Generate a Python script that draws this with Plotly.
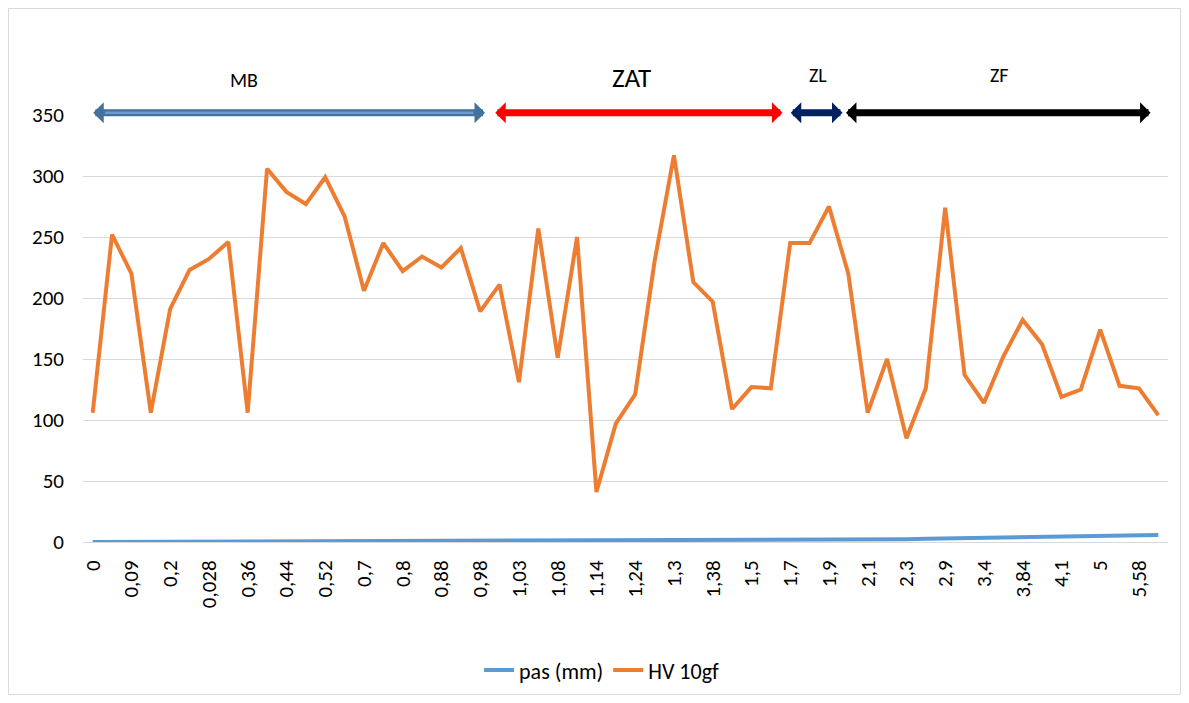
"""Microhardness profile across the weld zones (HV 10gf vs pas)."""

import plotly.graph_objects as go

# pas (mm) for each measurement point (odd points are not labelled in the source)
pas_mm = [0, 0.04, 0.09, 0.14, 0.2, 0.24, 0.028, 0.32, 0.36, 0.4,
          0.44, 0.48, 0.52, 0.6, 0.7, 0.76, 0.8, 0.84, 0.88, 0.92,
          0.98, 1.0, 1.03, 1.05, 1.08, 1.1, 1.14, 1.2, 1.24, 1.28,
          1.3, 1.34, 1.38, 1.44, 1.5, 1.6, 1.7, 1.8, 1.9, 2.0,
          2.1, 2.2, 2.3, 2.6, 2.9, 3.1, 3.4, 3.6, 3.84, 4.0,
          4.1, 4.5, 5.0, 5.3, 5.58, 5.8]

hv_10gf = [106, 252, 220, 106, 191, 223, 232, 246, 106, 306,
           287, 277, 299, 267, 206, 245, 222, 234, 225, 241,
           189, 211, 131, 257, 151, 250, 41, 97, 121, 230,
           317, 213, 197, 109, 127, 126, 245, 245, 275, 220,
           106, 150, 85, 126, 274, 137, 114, 152, 182, 162,
           119, 125, 174, 128, 126, 104]

categories = [f"{v:g}".replace(".", ",") for v in pas_mm]

# weld zones: name, start index, end index, arrow colour
zone_names = ["MB", "ZAT", "ZL", "ZF"]
zone_start = [-0.05, 20.7, 35.95, 38.8]
zone_end = [20.25, 35.6, 38.7, 54.6]
zone_colors = ["#41719c", "#ff0000", "#002060", "#000000"]
zone_label_x = [7.8, 27.8, 37.45, 46.8]
zone_label_y = [1.082, 1.087, 1.094, 1.094]
zone_label_size = [20, 27, 20, 20]

FONT = "Carlito, Lato, sans-serif"

fig = go.Figure()
fig.add_trace(go.Scatter(x=categories, y=pas_mm, name="pas (mm)", mode="lines",
                         line=dict(color="#5b9bd5", width=4)))
fig.add_trace(go.Scatter(x=categories, y=hv_10gf, name="HV 10gf", mode="lines",
                         line=dict(color="#ed7d31", width=4)))

arrow_y = 1.005  # just above the 350 gridline (paper units)
for name, x0, x1, color, lx, ly, fs in zip(zone_names, zone_start, zone_end,
                                           zone_colors, zone_label_x,
                                           zone_label_y, zone_label_size):
    fig.add_annotation(x=x1, y=arrow_y, ax=x0, ay=0, xref="x", yref="paper",
                       axref="x", ayref="pixel", text="", showarrow=True,
                       arrowhead=1, arrowside="end+start", arrowsize=0.5,
                       arrowwidth=7, arrowcolor=color)
    fig.add_annotation(x=lx, y=ly, xref="x", yref="paper", text=name,
                       showarrow=False, yanchor="middle",
                       font=dict(size=fs, color="#000000", family=FONT))

# lighter centre line of the MB arrow
fig.add_annotation(x=zone_end[0] - 0.6, y=arrow_y, ax=zone_start[0] + 0.6, ay=0,
                   xref="x", yref="paper", axref="x", ayref="pixel", text="",
                   showarrow=True, arrowhead=0, arrowwidth=2.5,
                   arrowcolor="#6a9bd3")

# chart area border
fig.add_shape(type="rect", xref="paper", yref="paper", x0=-0.0687, x1=1.0115,
              y0=-0.357, y1=1.2494, line=dict(color="#d9d9d9", width=1),
              layer="below")

fig.update_layout(
    width=1173, height=687,
    margin=dict(l=75, r=13, t=107, b=153),
    plot_bgcolor="white", paper_bgcolor="white",
    font=dict(family=FONT, size=21, color="#000000"),
    showlegend=True,
    legend=dict(orientation="h", xref="container", yref="container",
                x=0.506, y=0.036, xanchor="center", yanchor="middle",
                font=dict(size=22)),
)
fig.update_xaxes(type="category", range=[-0.5, 55.5], dtick=2, tickangle=-90,
                 showgrid=False, showline=True, linecolor="#d9d9d9",
                 ticks="", ticklabelstandoff=9, tickfont=dict(size=21))
fig.update_yaxes(range=[0, 350], dtick=50, showgrid=True, gridcolor="#d9d9d9",
                 gridwidth=1, zeroline=False, showline=False, ticks="",
                 ticklabelstandoff=18, tickfont=dict(size=21))

fig.write_html("out.html")
